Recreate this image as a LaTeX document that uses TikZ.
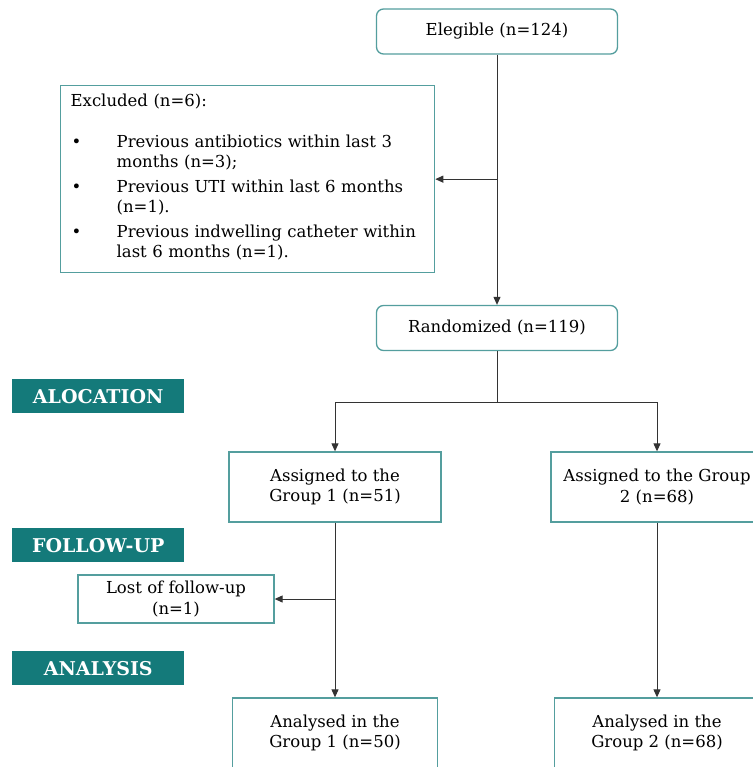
\documentclass[tikz,border=0pt]{standalone}
\usepackage{fontspec}
\setmainfont{DejaVu Serif}
\usetikzlibrary{positioning, calc, arrows.meta}
\definecolor{tealline}{RGB}{84,158,158}
\definecolor{tealfill}{RGB}{20,122,122}
\tikzset{box/.style={draw=tealline, line width=1.3pt, fill=white, align=center, inner sep=2pt}}
\tikzset{rbox/.style={box, rounded corners=7pt, minimum width=241pt, minimum height=45pt}}
\tikzset{grp/.style={box, minimum width=212pt, minimum height=70pt}}
\tikzset{stage/.style={fill=tealfill, text=white, font=\fontsize{19}{20}\selectfont\bfseries,
            minimum width=172pt, minimum height=34pt, anchor=north west, inner sep=0pt}}
\tikzset{arr/.style={-{Triangle[length=8pt,width=7pt]}, line width=1pt, draw=black!80}}

\begin{document}
\begin{tikzpicture}[x=1pt, y=-1pt, font=\fontsize{16.5}{20.5}\selectfont]
    \useasboundingbox (0,0) rectangle (752,767);

    % top
    \node(elig)[rbox] at (497,31.5){Elegible (n=124)};
    \node(rand)[rbox] at (497,328){Randomized (n=119)};

    % excluded
    \node(excl)[box, anchor=north west, minimum width=374pt, minimum height=187pt,
        text width=354pt, inner xsep=10pt, align=left] at (60,85){%
        Excluded (n=6):\\[20pt]
        \begin{tabular}[t]{@{\hspace{1pt}}p{45pt}@{}l@{}}
            \textbullet & Previous antibiotics within last 3\\
                        & months (n=3);\\[4pt]
            \textbullet & Previous UTI within last 6 months\\
                        & (n=1).\\[4pt]
            \textbullet & Previous indwelling catheter within\\
                        & last 6 months (n=1).
        \end{tabular}};

    % stages
    \node(alloc)[stage] at (12,379){ALOCATION};
    \node(follow)[stage] at (12,528){FOLLOW-UP};
    \node(analysis)[stage] at (12,651){ANALYSIS};

    % groups
    \node(ag1)[grp] at (335,487){Assigned to the\\Group 1 (n=51)};
    \node(ag2)[grp] at (657,487){Assigned to the Group\\2 (n=68)};
    \node(lost)[box, minimum width=196pt, minimum height=48pt] at (176,599){Lost of follow-up\\(n=1)};
    \node(an1)[grp, minimum width=205pt] at (335,733){Analysed in the\\Group 1 (n=50)};
    \node(an2)[grp, minimum width=205pt] at (657,733){Analysed in the\\Group 2 (n=68)};

    % connectors
    \draw[arr] (elig.south) -- (rand.north);
    \draw[arr] (elig.south |- excl.east) -- (excl.east);
    \coordinate(split) at ($(rand.south)+(0,51)$);
    \draw[arr] (rand.south) -- (split) -| (ag1.north);
    \draw[arr] (rand.south) -- (split) -| (ag2.north);
    \draw[arr] (ag1.south) -- (an1.north);
    \draw[arr] (ag1.south |- lost.east) -- (lost.east);
    \draw[arr] (ag2.south) -- (an2.north);

\end{tikzpicture}
\end{document}
